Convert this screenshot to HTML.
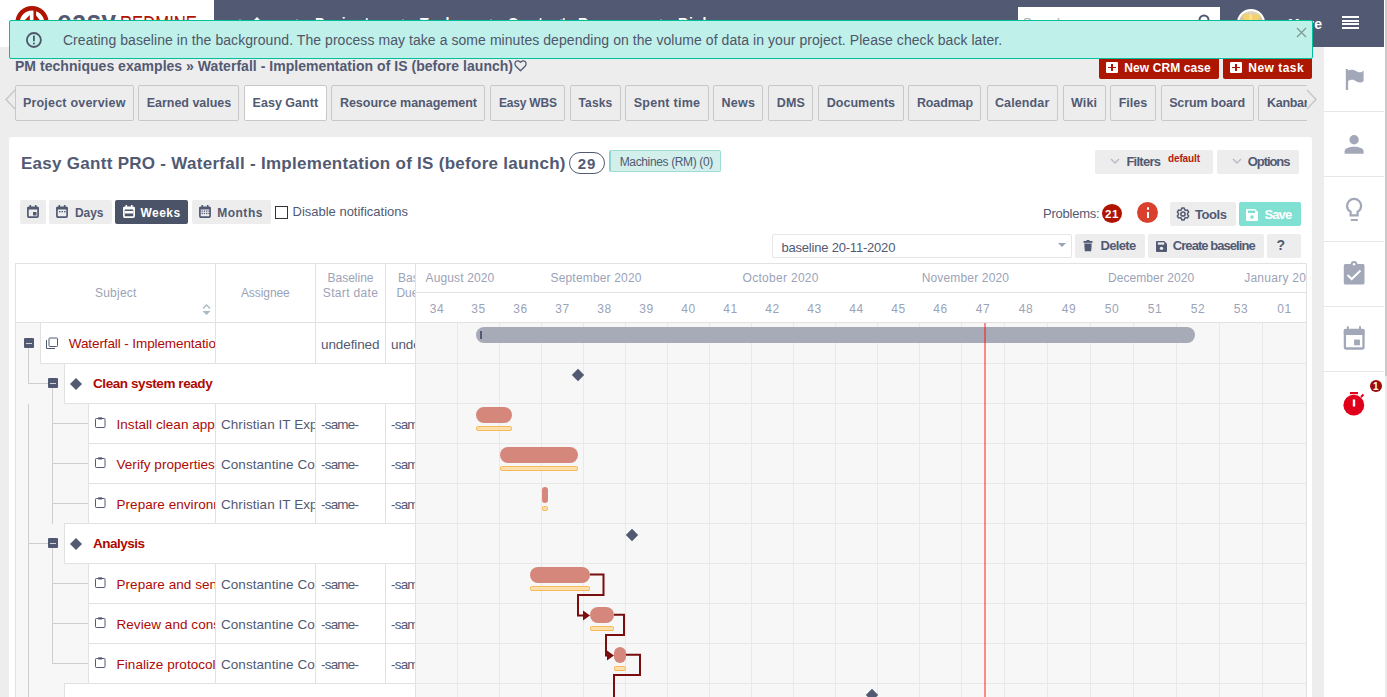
<!DOCTYPE html>
<html><head><meta charset="utf-8"><style>
html,body{margin:0;padding:0}
body{width:1387px;height:697px;overflow:hidden;position:relative;background:#ededed;font-family:"Liberation Sans",sans-serif}
</style></head><body>
<div style="position:absolute;left:0px;top:0px;width:214px;height:47px;background:#fff"></div>
<div style="position:absolute;left:214px;top:0px;width:1170px;height:47px;background:#525a73"></div>
<div style="position:absolute;left:1384px;top:0px;width:1px;height:697px;background:#fff"></div>
<div style="position:absolute;left:1385px;top:0px;width:2px;height:376px;background:#c9c9c9"></div>
<div style="position:absolute;left:1385px;top:376px;width:2px;height:321px;background:#ececec"></div>
<svg style="position:absolute;left:0;top:0" width="214" height="47" viewBox="0 0 214 47"><circle cx="32" cy="22.6" r="14.4" fill="none" stroke="#b01400" stroke-width="4.4"/><rect x="33.5" y="8" width="2.6" height="15" fill="#b01400"/><path d="M24 21 L29.8 15 L29.8 21 Z M36 15.5 L40.5 21 L36 21 Z" fill="#b01400"/><text x="57" y="30.6" font-family="Liberation Sans" font-weight="700" font-size="30" fill="#525a73" textLength="59" lengthAdjust="spacingAndGlyphs">easy</text><text x="120" y="30.6" font-family="Liberation Sans" font-weight="400" font-size="21.5" fill="#b01400" textLength="77" lengthAdjust="spacingAndGlyphs">REDMINE</text></svg>
<svg style="position:absolute;left:249px;top:16px" width="16" height="14" viewBox="0 0 16 14"><path d="M8 1 L15 8 L13 8 L13 14 L3 14 L3 8 L1 8 Z" fill="#fff"/></svg>
<div id="t0" style="position:absolute;white-space:nowrap;top:16.15px;font-size:14px;line-height:14px;font-weight:700;color:#fff;letter-spacing:1.107px;left:315.00px">Projects</div>
<div id="t1" style="position:absolute;white-space:nowrap;top:16.15px;font-size:14px;line-height:14px;font-weight:700;color:#fff;letter-spacing:0.832px;left:420.00px">Tasks</div>
<div id="t2" style="position:absolute;white-space:nowrap;top:16.15px;font-size:14px;line-height:14px;font-weight:700;color:#fff;letter-spacing:1.013px;left:508.00px">Contacts</div>
<div id="t3" style="position:absolute;white-space:nowrap;top:16.15px;font-size:14px;line-height:14px;font-weight:700;color:#fff;letter-spacing:0.676px;left:578.00px">Resources</div>
<div id="t4" style="position:absolute;white-space:nowrap;top:16.15px;font-size:14px;line-height:14px;font-weight:700;color:#fff;letter-spacing:0.910px;left:678.00px">Risks</div>
<div style="position:absolute;left:239px;top:19px;width:2px;height:2px;background:#9aa0b0;border-radius:1px"></div>
<div style="position:absolute;left:296px;top:19px;width:2px;height:2px;background:#9aa0b0;border-radius:1px"></div>
<div style="position:absolute;left:402px;top:19px;width:2px;height:2px;background:#9aa0b0;border-radius:1px"></div>
<div style="position:absolute;left:490px;top:19px;width:2px;height:2px;background:#9aa0b0;border-radius:1px"></div>
<div style="position:absolute;left:560px;top:19px;width:2px;height:2px;background:#9aa0b0;border-radius:1px"></div>
<div style="position:absolute;left:660px;top:19px;width:2px;height:2px;background:#9aa0b0;border-radius:1px"></div>
<div style="position:absolute;left:1018px;top:7px;width:202px;height:30px;background:#fff"></div>
<div id="t5" style="position:absolute;white-space:nowrap;top:16.00px;font-size:13px;line-height:13px;font-weight:400;color:#aaa;letter-spacing:0.000px;left:1023.00px">Search</div>
<svg style="position:absolute;left:1198px;top:14px" width="14" height="14" viewBox="0 0 14 14"><circle cx="6" cy="6" r="4.5" fill="none" stroke="#525a73" stroke-width="2"/><path d="M9 9 L13 13" stroke="#525a73" stroke-width="2"/></svg>
<svg style="position:absolute;left:1236px;top:8px" width="30" height="30" viewBox="0 0 30 30"><defs><linearGradient id="av" x1="0" y1="0" x2="0" y2="1"><stop offset="0" stop-color="#e6dcc6"/><stop offset="0.5" stop-color="#cbb88f"/><stop offset="1" stop-color="#bfa678"/></linearGradient></defs><circle cx="15" cy="15" r="13" fill="url(#av)" stroke="#fff" stroke-width="2"/><path d="M6 6.5 L24.5 6.5 L21.5 13 L9 13 Z" fill="#f2d36e"/><path d="M13.5 6.5 L16 6.5 L16 13 L13.5 13 Z" fill="#fbe39a"/></svg>
<div id="t6" style="position:absolute;white-space:nowrap;top:17.15px;font-size:14px;line-height:14px;font-weight:700;color:#fff;letter-spacing:0.182px;left:1288.00px">More</div>
<div style="position:absolute;left:1342px;top:16px;width:17px;height:2px;background:#fff"></div>
<div style="position:absolute;left:1342px;top:19.5px;width:17px;height:2px;background:#fff"></div>
<div style="position:absolute;left:1342px;top:23px;width:17px;height:2px;background:#fff"></div>
<div style="position:absolute;left:1342px;top:26.5px;width:17px;height:2px;background:#fff"></div>
<div style="position:absolute;left:1324px;top:47px;width:60px;height:650px;background:#fff"></div>
<div style="position:absolute;left:1324px;top:111px;width:60px;height:1px;background:#e6e6e6"></div>
<div style="position:absolute;left:1324px;top:176px;width:60px;height:1px;background:#e6e6e6"></div>
<div style="position:absolute;left:1324px;top:241px;width:60px;height:1px;background:#e6e6e6"></div>
<div style="position:absolute;left:1324px;top:306px;width:60px;height:1px;background:#e6e6e6"></div>
<div style="position:absolute;left:1324px;top:371px;width:60px;height:1px;background:#e6e6e6"></div>
<svg style="position:absolute;left:1340px;top:64px" width="28" height="30" viewBox="0 0 28 30"><rect x="5.8" y="5" width="2.3" height="21" fill="#a2a8b8"/><path d="M8 6.5 C11 5 14 5.5 17 7.5 C19.5 9 21.5 8.5 23.6 6.5 L23.6 17 C21.5 19 19 19 16.5 17.5 C13.5 15.5 11 15.3 8 17 Z" fill="#a2a8b8"/></svg>
<svg style="position:absolute;left:1340px;top:130px" width="28" height="28" viewBox="0 0 28 28"><circle cx="14.1" cy="9.7" r="4.7" fill="#a2a8b8"/><path d="M4.6 23.7 L4.6 21.5 C4.6 18.3 9 16.8 14.1 16.8 C19.2 16.8 23.6 18.3 23.6 21.5 L23.6 23.7 Z" fill="#a2a8b8"/></svg>
<svg style="position:absolute;left:1340px;top:192px" width="28" height="32" viewBox="0 0 28 32"><path d="M10.6 23.3 L10.6 19.6 C8.2 18.3 7.1 16.3 7.1 13.9 C7.1 10 10.2 6.9 14.1 6.9 C18 6.9 21.1 10 21.1 13.9 C21.1 16.3 20 18.3 17.6 19.6 L17.6 23.3 Z" fill="none" stroke="#a2a8b8" stroke-width="2.2"/><rect x="10.8" y="27" width="7" height="2" fill="#a2a8b8"/></svg>
<svg style="position:absolute;left:1340px;top:258px" width="28" height="30" viewBox="0 0 28 30"><rect x="3.8" y="5.9" width="20.7" height="20.7" rx="1.5" fill="#a2a8b8"/><circle cx="14" cy="6.2" r="3.3" fill="#a2a8b8"/><circle cx="14" cy="6.2" r="1.2" fill="#fff"/><path d="M7.5 17 L11.7 21 L20.5 12.5" fill="none" stroke="#fff" stroke-width="2"/></svg>
<svg style="position:absolute;left:1340px;top:323px" width="28" height="30" viewBox="0 0 28 30"><rect x="4.9" y="6.9" width="18.6" height="18.6" rx="1" fill="none" stroke="#a2a8b8" stroke-width="2.3"/><rect x="3.8" y="5.9" width="20.7" height="6.1" rx="1" fill="#a2a8b8"/><rect x="6.8" y="3.3" width="2" height="3" fill="#a2a8b8"/><rect x="19" y="3.3" width="2" height="3" fill="#a2a8b8"/><rect x="14.1" y="16.6" width="5.8" height="5.7" fill="#a2a8b8"/></svg>
<svg style="position:absolute;left:1340px;top:388px" width="28" height="30" viewBox="0 0 28 30"><circle cx="13.8" cy="17.2" r="10.4" fill="#e0001b"/><rect x="10" y="4" width="8" height="2.2" fill="#e0001b"/><path d="M21 9 L23.5 6.5" stroke="#e0001b" stroke-width="2"/><rect x="12.8" y="11.5" width="2.4" height="7" fill="#fff"/></svg>
<div style="position:absolute;left:1370px;top:380px;width:12px;height:12px;border-radius:50%;background:#9e0b0b"></div>
<div id="t7" style="position:absolute;white-space:nowrap;top:381.54px;font-size:10px;line-height:10px;font-weight:700;color:#fff;letter-spacing:0.000px;left:1373.00px">1</div>
<div id="t8" style="position:absolute;white-space:nowrap;top:58.75px;font-size:14px;line-height:14px;font-weight:700;color:#525a73;letter-spacing:0.031px;left:15.00px">PM techniques examples » Waterfall - Implementation of IS (before launch)</div>
<svg style="position:absolute;left:514px;top:60px" width="13" height="12" viewBox="0 0 13 12"><path d="M6.5 10.8 L1.9 6.2 C0.6 4.9 0.6 2.8 1.9 1.6 C3.1 0.5 5 0.6 6.5 2.4 C8 0.6 9.9 0.5 11.1 1.6 C12.4 2.8 12.4 4.9 11.1 6.2 Z" fill="none" stroke="#525a73" stroke-width="1.3" stroke-linejoin="round"/></svg>
<div style="position:absolute;left:1099px;top:54px;width:120px;height:25px;background:#ad1600;border-radius:2px"></div>
<div style="position:absolute;left:1223px;top:54px;width:89px;height:25px;background:#ad1600;border-radius:2px"></div>
<div style="position:absolute;left:1106px;top:62px;width:11.5px;height:11px;background:#fff;border-radius:1px"></div>
<div style="position:absolute;left:1111px;top:64px;width:1.6px;height:7px;background:#ad1600"></div>
<div style="position:absolute;left:1108px;top:66.8px;width:7.6px;height:1.6px;background:#ad1600"></div>
<div style="position:absolute;left:1230px;top:62px;width:11.5px;height:11px;background:#fff;border-radius:1px"></div>
<div style="position:absolute;left:1235px;top:64px;width:1.6px;height:7px;background:#ad1600"></div>
<div style="position:absolute;left:1232px;top:66.8px;width:7.6px;height:1.6px;background:#ad1600"></div>
<div id="t9" style="position:absolute;white-space:nowrap;top:61.54px;font-size:12px;line-height:12px;font-weight:700;color:#fff;letter-spacing:0.084px;left:1124.30px">New CRM case</div>
<div id="t10" style="position:absolute;white-space:nowrap;top:61.54px;font-size:12px;line-height:12px;font-weight:700;color:#fff;letter-spacing:0.467px;left:1248.30px">New task</div>
<div style="position:absolute;left:15px;top:80px;width:1292px;height:45px;overflow:hidden">
<div style="position:absolute;left:0px;top:5px;width:116.5px;height:34px;border:1px solid #c8c8c8;border-radius:2px;background:#ededed"></div>
<div style="position:absolute;left:123.4px;top:5px;width:99.1px;height:34px;border:1px solid #c8c8c8;border-radius:2px;background:#ededed"></div>
<div style="position:absolute;left:229.1px;top:5px;width:80.50000000000003px;height:34px;border:1px solid #c8c8c8;border-radius:2px;background:#fff"></div>
<div style="position:absolute;left:316.4px;top:5px;width:152.10000000000002px;height:34px;border:1px solid #c8c8c8;border-radius:2px;background:#ededed"></div>
<div style="position:absolute;left:475.3px;top:5px;width:72.99999999999994px;height:34px;border:1px solid #c8c8c8;border-radius:2px;background:#ededed"></div>
<div style="position:absolute;left:555.1px;top:5px;width:48.69999999999993px;height:34px;border:1px solid #c8c8c8;border-radius:2px;background:#ededed"></div>
<div style="position:absolute;left:610.4px;top:5px;width:81.20000000000005px;height:34px;border:1px solid #c8c8c8;border-radius:2px;background:#ededed"></div>
<div style="position:absolute;left:698.1px;top:5px;width:48.39999999999998px;height:34px;border:1px solid #c8c8c8;border-radius:2px;background:#ededed"></div>
<div style="position:absolute;left:753.3px;top:5px;width:43.10000000000002px;height:34px;border:1px solid #c8c8c8;border-radius:2px;background:#ededed"></div>
<div style="position:absolute;left:803.2px;top:5px;width:83.39999999999998px;height:34px;border:1px solid #c8c8c8;border-radius:2px;background:#ededed"></div>
<div style="position:absolute;left:893.4px;top:5px;width:71.10000000000002px;height:34px;border:1px solid #c8c8c8;border-radius:2px;background:#ededed"></div>
<div style="position:absolute;left:971.5px;top:5px;width:69.40000000000009px;height:34px;border:1px solid #c8c8c8;border-radius:2px;background:#ededed"></div>
<div style="position:absolute;left:1047.5px;top:5px;width:41.200000000000045px;height:34px;border:1px solid #c8c8c8;border-radius:2px;background:#ededed"></div>
<div style="position:absolute;left:1095.2px;top:5px;width:43.399999999999864px;height:34px;border:1px solid #c8c8c8;border-radius:2px;background:#ededed"></div>
<div style="position:absolute;left:1145.6px;top:5px;width:91.0px;height:34px;border:1px solid #c8c8c8;border-radius:2px;background:#ededed"></div>
<div style="position:absolute;left:1243.3px;top:5px;width:79.70000000000005px;height:34px;border:1px solid #c8c8c8;border-radius:2px;background:#ededed"></div>
</div>
<div id="t11" style="position:absolute;white-space:nowrap;top:96.72px;font-size:12.5px;line-height:12.5px;font-weight:700;color:#525a73;letter-spacing:0.209px;left:74.25px;transform:translateX(-50%)">Project overview</div>
<div id="t12" style="position:absolute;white-space:nowrap;top:96.72px;font-size:12.5px;line-height:12.5px;font-weight:700;color:#525a73;letter-spacing:-0.039px;left:188.95px;transform:translateX(-50%)">Earned values</div>
<div id="t13" style="position:absolute;white-space:nowrap;top:96.72px;font-size:12.5px;line-height:12.5px;font-weight:700;color:#525a73;letter-spacing:0.021px;left:285.35px;transform:translateX(-50%)">Easy Gantt</div>
<div id="t14" style="position:absolute;white-space:nowrap;top:96.72px;font-size:12.5px;line-height:12.5px;font-weight:700;color:#525a73;letter-spacing:-0.031px;left:408.45px;transform:translateX(-50%)">Resource management</div>
<div id="t15" style="position:absolute;white-space:nowrap;top:97.14px;font-size:12px;line-height:12px;font-weight:700;color:#525a73;letter-spacing:-0.194px;left:527.80px;transform:translateX(-50%)">Easy WBS</div>
<div id="t16" style="position:absolute;white-space:nowrap;top:97.14px;font-size:12px;line-height:12px;font-weight:700;color:#525a73;letter-spacing:0.140px;left:595.45px;transform:translateX(-50%)">Tasks</div>
<div id="t17" style="position:absolute;white-space:nowrap;top:96.72px;font-size:12.5px;line-height:12.5px;font-weight:700;color:#525a73;letter-spacing:0.255px;left:667.00px;transform:translateX(-50%)">Spent time</div>
<div id="t18" style="position:absolute;white-space:nowrap;top:96.72px;font-size:12.5px;line-height:12.5px;font-weight:700;color:#525a73;letter-spacing:0.248px;left:738.30px;transform:translateX(-50%)">News</div>
<div id="t19" style="position:absolute;white-space:nowrap;top:96.72px;font-size:12.5px;line-height:12.5px;font-weight:700;color:#525a73;letter-spacing:0.159px;left:790.85px;transform:translateX(-50%)">DMS</div>
<div id="t20" style="position:absolute;white-space:nowrap;top:96.72px;font-size:12.5px;line-height:12.5px;font-weight:700;color:#525a73;letter-spacing:0.040px;left:860.90px;transform:translateX(-50%)">Documents</div>
<div id="t21" style="position:absolute;white-space:nowrap;top:96.72px;font-size:12.5px;line-height:12.5px;font-weight:700;color:#525a73;letter-spacing:-0.142px;left:944.95px;transform:translateX(-50%)">Roadmap</div>
<div id="t22" style="position:absolute;white-space:nowrap;top:96.72px;font-size:12.5px;line-height:12.5px;font-weight:700;color:#525a73;letter-spacing:0.129px;left:1022.20px;transform:translateX(-50%)">Calendar</div>
<div id="t23" style="position:absolute;white-space:nowrap;top:96.72px;font-size:12.5px;line-height:12.5px;font-weight:700;color:#525a73;letter-spacing:0.202px;left:1084.10px;transform:translateX(-50%)">Wiki</div>
<div id="t24" style="position:absolute;white-space:nowrap;top:96.72px;font-size:12.5px;line-height:12.5px;font-weight:700;color:#525a73;letter-spacing:-0.025px;left:1132.90px;transform:translateX(-50%)">Files</div>
<div id="t25" style="position:absolute;white-space:nowrap;top:96.72px;font-size:12.5px;line-height:12.5px;font-weight:700;color:#525a73;letter-spacing:-0.111px;left:1207.10px;transform:translateX(-50%)">Scrum board</div>
<div style="position:absolute;left:1258px;top:0;width:49px;height:697px;overflow:hidden"><div id="t26" style="position:absolute;white-space:nowrap;top:96.72px;font-size:12.5px;line-height:12.5px;font-weight:700;color:#525a73;letter-spacing:-0.300px;left:9.00px">Kanban</div></div>
<svg style="position:absolute;left:3px;top:88px" width="14" height="24" viewBox="0 0 14 24"><path d="M12 2 L3 11.5 L12 21" fill="none" stroke="#c8c8c8" stroke-width="1.5"/></svg>
<svg style="position:absolute;left:1305px;top:88px" width="14" height="24" viewBox="0 0 14 24"><path d="M2 2 L11 11.5 L2 21" fill="none" stroke="#c8c8c8" stroke-width="1.5"/></svg>
<div style="position:absolute;left:9px;top:137px;width:1303px;height:600px;background:#fff;border-radius:3px"></div>
<div id="t27" style="position:absolute;white-space:nowrap;top:154.61px;font-size:17px;line-height:17px;font-weight:700;color:#525a73;letter-spacing:0.282px;left:21.00px">Easy Gantt PRO - Waterfall - Implementation of IS (before launch)</div>
<div style="position:absolute;left:569px;top:152px;width:34px;height:20px;border:1px solid #525a73;border-radius:11px"></div>
<div id="t28" style="position:absolute;white-space:nowrap;top:156.30px;font-size:15px;line-height:15px;font-weight:700;color:#525a73;letter-spacing:0.812px;left:587.00px;transform:translateX(-50%)">29</div>
<div style="position:absolute;left:609px;top:150px;width:109px;height:20px;border:1px solid #9fdcd3;border-left:2px solid #8fd5cb;background:#d3efec;border-radius:2px"></div>
<div id="t29" style="position:absolute;white-space:nowrap;top:155.84px;font-size:12px;line-height:12px;font-weight:400;color:#525a73;letter-spacing:-0.360px;left:619.70px">Machines (RM) (0)</div>
<div style="position:absolute;left:1095px;top:150px;width:118px;height:24px;background:#ededed;border-radius:2px"></div>
<div style="position:absolute;left:1217px;top:150px;width:82px;height:24px;background:#ededed;border-radius:2px"></div>
<svg style="position:absolute;left:1110px;top:158px" width="10" height="7" viewBox="0 0 10 7"><path d="M1 1 L5 5 L9 1" fill="none" stroke="#b9bdc8" stroke-width="1.5"/></svg>
<svg style="position:absolute;left:1232px;top:158px" width="10" height="7" viewBox="0 0 10 7"><path d="M1 1 L5 5 L9 1" fill="none" stroke="#b9bdc8" stroke-width="1.5"/></svg>
<div id="t30" style="position:absolute;white-space:nowrap;top:155.00px;font-size:13px;line-height:13px;font-weight:700;color:#525a73;letter-spacing:-0.736px;left:1126.40px">Filters</div>
<div id="t31" style="position:absolute;white-space:nowrap;top:153.53px;font-size:10px;line-height:10px;font-weight:700;color:#b31b10;letter-spacing:-0.130px;left:1168.00px">default</div>
<div id="t32" style="position:absolute;white-space:nowrap;top:155.00px;font-size:13px;line-height:13px;font-weight:700;color:#525a73;letter-spacing:-1.085px;left:1247.80px">Options</div>
<div style="position:absolute;left:20px;top:200px;width:26px;height:24px;background:#ededed;border-radius:2px"></div>
<div style="position:absolute;left:49px;top:200px;width:63px;height:24px;background:#ededed;border-radius:2px"></div>
<div style="position:absolute;left:115px;top:200px;width:73px;height:24px;background:#4b5368;border-radius:2px"></div>
<div style="position:absolute;left:192px;top:200px;width:79px;height:24px;background:#ededed;border-radius:2px"></div>
<svg style="position:absolute;left:27px;top:205px" width="12" height="13" viewBox="0 0 12 13"><rect x="0.9" y="2.4" width="10.2" height="9.7" rx="1" fill="none" stroke="#525a73" stroke-width="1.7"/><rect x="0.5" y="2" width="11" height="2.5" fill="#525a73"/><rect x="2.5" y="0" width="1.6" height="3" fill="#525a73"/><rect x="7.9" y="0" width="1.6" height="3" fill="#525a73"/><rect x="6" y="7" width="3.5" height="3.5" fill="#525a73"/></svg>
<svg style="position:absolute;left:56px;top:205px" width="12" height="13" viewBox="0 0 12 13"><rect x="0.9" y="2.4" width="10.2" height="9.7" rx="1" fill="none" stroke="#525a73" stroke-width="1.7"/><rect x="0.5" y="2" width="11" height="2.5" fill="#525a73"/><rect x="2.5" y="0" width="1.6" height="3" fill="#525a73"/><rect x="7.9" y="0" width="1.6" height="3" fill="#525a73"/><rect x="3" y="6" width="1.5" height="1.3" fill="#525a73"/><rect x="5.5" y="6" width="1.5" height="1.3" fill="#525a73"/><rect x="8" y="6" width="1.5" height="1.3" fill="#525a73"/></svg>
<svg style="position:absolute;left:122.5px;top:205px" width="12" height="13" viewBox="0 0 12 13"><rect x="0.9" y="2.4" width="10.2" height="9.7" rx="1" fill="none" stroke="#fff" stroke-width="1.7"/><rect x="0.5" y="2" width="11" height="2.5" fill="#fff"/><rect x="2.5" y="0" width="1.6" height="3" fill="#fff"/><rect x="7.9" y="0" width="1.6" height="3" fill="#fff"/><rect x="2" y="6" width="8" height="2.5" fill="#fff"/></svg>
<svg style="position:absolute;left:199px;top:205px" width="12" height="13" viewBox="0 0 12 13"><rect x="0.9" y="2.4" width="10.2" height="9.7" rx="1" fill="none" stroke="#525a73" stroke-width="1.7"/><rect x="0.5" y="2" width="11" height="2.5" fill="#525a73"/><rect x="2.5" y="0" width="1.6" height="3" fill="#525a73"/><rect x="7.9" y="0" width="1.6" height="3" fill="#525a73"/><rect x="2.5" y="5.5" width="1.3" height="1.3" fill="#525a73"/><rect x="2.5" y="7.8" width="1.3" height="1.3" fill="#525a73"/><rect x="4.8" y="5.5" width="1.3" height="1.3" fill="#525a73"/><rect x="4.8" y="7.8" width="1.3" height="1.3" fill="#525a73"/><rect x="7.1" y="5.5" width="1.3" height="1.3" fill="#525a73"/><rect x="7.1" y="7.8" width="1.3" height="1.3" fill="#525a73"/><rect x="9.399999999999999" y="5.5" width="1.3" height="1.3" fill="#525a73"/><rect x="9.399999999999999" y="7.8" width="1.3" height="1.3" fill="#525a73"/></svg>
<div id="t33" style="position:absolute;white-space:nowrap;top:206.84px;font-size:12px;line-height:12px;font-weight:700;color:#525a73;letter-spacing:-0.096px;left:75.00px">Days</div>
<div id="t34" style="position:absolute;white-space:nowrap;top:206.84px;font-size:12px;line-height:12px;font-weight:700;color:#fff;letter-spacing:0.497px;left:140.40px">Weeks</div>
<div id="t35" style="position:absolute;white-space:nowrap;top:206.84px;font-size:12px;line-height:12px;font-weight:700;color:#525a73;letter-spacing:0.509px;left:217.20px">Months</div>
<div style="position:absolute;left:275px;top:206px;width:11px;height:11px;border:1px solid #333;background:#fff"></div>
<div id="t36" style="position:absolute;white-space:nowrap;top:205.00px;font-size:13px;line-height:13px;font-weight:400;color:#525a73;letter-spacing:-0.006px;left:292.50px">Disable notifications</div>
<div id="t37" style="position:absolute;white-space:nowrap;top:207.20px;font-size:13px;line-height:13px;font-weight:400;color:#525a73;letter-spacing:-0.254px;left:1043.10px">Problems:</div>
<div style="position:absolute;left:1102px;top:204px;width:20px;height:19px;border-radius:50%;background:#b01400"></div>
<div id="t38" style="position:absolute;white-space:nowrap;top:208.57px;font-size:11.5px;line-height:11.5px;font-weight:700;color:#fff;letter-spacing:0.500px;left:1112.00px;transform:translateX(-50%)">21</div>
<div style="position:absolute;left:1137px;top:202px;width:21px;height:21px;border-radius:50%;background:#d9412e"></div>
<div style="position:absolute;left:1146.5px;top:207.2px;width:2.5px;height:2.5px;background:#fff;border-radius:1px"></div>
<div style="position:absolute;left:1146.5px;top:211.5px;width:2.5px;height:6.5px;background:#fff"></div>
<div style="position:absolute;left:1170px;top:202px;width:66px;height:24px;background:#ededed;border-radius:2px"></div>
<div style="position:absolute;left:1239px;top:202px;width:62px;height:24px;background:#80e1d3;border-radius:2px"></div>
<svg style="position:absolute;left:1175.7px;top:207.2px" width="14" height="14" viewBox="0 0 14 14"><g fill="none" stroke="#525a73" stroke-width="1.5" stroke-linejoin="round"><circle cx="7" cy="7" r="2.1"/><path d="M8.72 2.73 L8.14 1.11 L5.86 1.11 L5.28 2.73 L4.17 3.38 L2.47 3.06 L1.33 5.05 L2.44 6.36 L2.44 7.64 L1.33 8.95 L2.47 10.94 L4.17 10.62 L5.28 11.27 L5.86 12.89 L8.14 12.89 L8.72 11.27 L9.83 10.62 L11.53 10.94 L12.67 8.95 L11.56 7.64 L11.56 6.36 L12.67 5.05 L11.53 3.06 L9.83 3.38 Z"/></g></svg>
<div id="t39" style="position:absolute;white-space:nowrap;top:207.90px;font-size:13px;line-height:13px;font-weight:700;color:#525a73;letter-spacing:-0.451px;left:1195.10px">Tools</div>
<svg style="position:absolute;left:1246px;top:208.5px" width="12" height="12" viewBox="0 0 12 12"><path d="M0 1 Q0 0 1 0 L9 0 L12 3 L12 11 Q12 12 11 12 L1 12 Q0 12 0 11 Z" fill="#fff"/><rect x="2" y="1.5" width="7" height="2.5" fill="#80e1d3"/><circle cx="6" cy="8" r="1.8" fill="#80e1d3"/></svg>
<div id="t40" style="position:absolute;white-space:nowrap;top:207.90px;font-size:13px;line-height:13px;font-weight:700;color:#fff;letter-spacing:-0.858px;left:1264.40px">Save</div>
<div style="position:absolute;left:772px;top:234px;width:298px;height:22px;border:1px solid #e6e6e6;border-radius:2px;background:#fff"></div>
<div id="t41" style="position:absolute;white-space:nowrap;top:240.90px;font-size:13px;line-height:13px;font-weight:400;color:#525a73;letter-spacing:-0.199px;left:781.40px">baseline 20-11-2020</div>
<svg style="position:absolute;left:1058px;top:243px" width="8" height="5" viewBox="0 0 8 5"><path d="M0 0 L8 0 L4 4 Z" fill="#9ba3b8"/></svg>
<div style="position:absolute;left:1075px;top:234px;width:70px;height:23.5px;background:#ededed;border-radius:2px"></div>
<div style="position:absolute;left:1148px;top:234px;width:116px;height:23.5px;background:#ededed;border-radius:2px"></div>
<div style="position:absolute;left:1267px;top:234px;width:34px;height:23.5px;background:#ededed;border-radius:2px"></div>
<svg style="position:absolute;left:1083px;top:240px" width="10" height="12" viewBox="0 0 10 12"><rect x="0.5" y="1" width="9" height="1.8" fill="#525a73"/><rect x="3.5" y="0" width="3" height="1.5" fill="#525a73"/><path d="M1.3 3.5 L8.7 3.5 L8.2 11.2 L1.8 11.2 Z" fill="#525a73"/></svg>
<div id="t42" style="position:absolute;white-space:nowrap;top:239.00px;font-size:13px;line-height:13px;font-weight:700;color:#525a73;letter-spacing:-0.666px;left:1100.50px">Delete</div>
<svg style="position:absolute;left:1155.5px;top:240.5px" width="11" height="11" viewBox="0 0 12 12"><path d="M0 1 Q0 0 1 0 L9 0 L12 3 L12 11 Q12 12 11 12 L1 12 Q0 12 0 11 Z" fill="#525a73"/><rect x="2" y="1.5" width="7" height="2.5" fill="#ededed"/><circle cx="6" cy="8" r="1.8" fill="#ededed"/></svg>
<div id="t43" style="position:absolute;white-space:nowrap;top:239.00px;font-size:13px;line-height:13px;font-weight:700;color:#525a73;letter-spacing:-0.944px;left:1172.80px">Create baseline</div>
<div id="t44" style="position:absolute;white-space:nowrap;top:238.15px;font-size:14px;line-height:14px;font-weight:700;color:#525a73;letter-spacing:-0.862px;left:1276.40px">?</div>
<div style="position:absolute;left:15px;top:263px;width:1292px;height:1px;background:#e2e2e2"></div>
<div style="position:absolute;left:15px;top:263px;width:1px;height:434px;background:#e2e2e2"></div>
<div style="position:absolute;left:1306px;top:263px;width:1px;height:434px;background:#e2e2e2"></div>
<div style="position:absolute;left:15px;top:322px;width:1292px;height:1px;background:#e2e2e2"></div>
<div style="position:absolute;left:215px;top:263px;width:1px;height:59px;background:#e2e2e2"></div>
<div style="position:absolute;left:315px;top:263px;width:1px;height:59px;background:#e2e2e2"></div>
<div style="position:absolute;left:385px;top:263px;width:1px;height:59px;background:#e2e2e2"></div>
<div style="position:absolute;left:415px;top:263px;width:1px;height:434px;background:#e2e2e2"></div>
<div style="position:absolute;left:416px;top:292px;width:890px;height:1px;background:#e2e2e2"></div>
<div id="t45" style="position:absolute;white-space:nowrap;top:286.84px;font-size:12px;line-height:12px;font-weight:400;color:#9ba3b8;letter-spacing:0.228px;left:115.80px;transform:translateX(-50%)">Subject</div>
<svg style="position:absolute;left:202px;top:303px" width="9" height="14" viewBox="0 0 9 14"><path d="M1 5.5 L4.5 2 L8 5.5" fill="none" stroke="#a9b9c3" stroke-width="1.3"/><path d="M0.5 8 L8.5 8 L4.5 12 Z" fill="#a9b9c3"/></svg>
<div id="t46" style="position:absolute;white-space:nowrap;top:286.84px;font-size:12px;line-height:12px;font-weight:400;color:#9ba3b8;letter-spacing:-0.068px;left:265.30px;transform:translateX(-50%)">Assignee</div>
<div id="t47" style="position:absolute;white-space:nowrap;top:271.84px;font-size:12px;line-height:12px;font-weight:400;color:#9ba3b8;letter-spacing:-0.004px;left:350.50px;transform:translateX(-50%)">Baseline</div>
<div id="t48" style="position:absolute;white-space:nowrap;top:286.84px;font-size:12px;line-height:12px;font-weight:400;color:#9ba3b8;letter-spacing:0.330px;left:350.50px;transform:translateX(-50%)">Start date</div>
<div style="position:absolute;left:386px;top:0;width:29px;height:697px;overflow:hidden"><div id="t49" style="position:absolute;white-space:nowrap;top:271.84px;font-size:12px;line-height:12px;font-weight:400;color:#9ba3b8;letter-spacing:0.000px;left:12.00px">Baseline</div></div>
<div style="position:absolute;left:386px;top:0;width:29px;height:697px;overflow:hidden"><div id="t50" style="position:absolute;white-space:nowrap;top:286.84px;font-size:12px;line-height:12px;font-weight:400;color:#9ba3b8;letter-spacing:0.000px;left:10.40px">Due date</div></div>
<div style="position:absolute;left:416px;top:323px;width:890px;height:374px;background:#f7f7f7"></div>
<div style="position:absolute;left:457px;top:323px;width:1px;height:374px;background:#e9e9e9"></div>
<div style="position:absolute;left:499px;top:323px;width:1px;height:374px;background:#e9e9e9"></div>
<div style="position:absolute;left:541px;top:323px;width:1px;height:374px;background:#e9e9e9"></div>
<div style="position:absolute;left:583px;top:323px;width:1px;height:374px;background:#e9e9e9"></div>
<div style="position:absolute;left:625px;top:323px;width:1px;height:374px;background:#e9e9e9"></div>
<div style="position:absolute;left:667px;top:323px;width:1px;height:374px;background:#e9e9e9"></div>
<div style="position:absolute;left:709px;top:323px;width:1px;height:374px;background:#e9e9e9"></div>
<div style="position:absolute;left:751px;top:323px;width:1px;height:374px;background:#e9e9e9"></div>
<div style="position:absolute;left:793px;top:323px;width:1px;height:374px;background:#e9e9e9"></div>
<div style="position:absolute;left:835px;top:323px;width:1px;height:374px;background:#e9e9e9"></div>
<div style="position:absolute;left:877px;top:323px;width:1px;height:374px;background:#e9e9e9"></div>
<div style="position:absolute;left:919px;top:323px;width:1px;height:374px;background:#e9e9e9"></div>
<div style="position:absolute;left:961px;top:323px;width:1px;height:374px;background:#e9e9e9"></div>
<div style="position:absolute;left:1004px;top:323px;width:1px;height:374px;background:#e9e9e9"></div>
<div style="position:absolute;left:1047px;top:323px;width:1px;height:374px;background:#e9e9e9"></div>
<div style="position:absolute;left:1090px;top:323px;width:1px;height:374px;background:#e9e9e9"></div>
<div style="position:absolute;left:1133px;top:323px;width:1px;height:374px;background:#e9e9e9"></div>
<div style="position:absolute;left:1176px;top:323px;width:1px;height:374px;background:#e9e9e9"></div>
<div style="position:absolute;left:1219px;top:323px;width:1px;height:374px;background:#e9e9e9"></div>
<div style="position:absolute;left:1262px;top:323px;width:1px;height:374px;background:#e9e9e9"></div>
<div id="t51" style="position:absolute;white-space:nowrap;top:302.54px;font-size:12px;line-height:12px;font-weight:400;color:#9ba3b8;letter-spacing:0.641px;left:437.00px;transform:translateX(-50%)">34</div>
<div id="t52" style="position:absolute;white-space:nowrap;top:302.54px;font-size:12px;line-height:12px;font-weight:400;color:#9ba3b8;letter-spacing:0.641px;left:478.50px;transform:translateX(-50%)">35</div>
<div id="t53" style="position:absolute;white-space:nowrap;top:302.54px;font-size:12px;line-height:12px;font-weight:400;color:#9ba3b8;letter-spacing:0.641px;left:520.50px;transform:translateX(-50%)">36</div>
<div id="t54" style="position:absolute;white-space:nowrap;top:302.54px;font-size:12px;line-height:12px;font-weight:400;color:#9ba3b8;letter-spacing:0.641px;left:562.50px;transform:translateX(-50%)">37</div>
<div id="t55" style="position:absolute;white-space:nowrap;top:302.54px;font-size:12px;line-height:12px;font-weight:400;color:#9ba3b8;letter-spacing:0.641px;left:604.50px;transform:translateX(-50%)">38</div>
<div id="t56" style="position:absolute;white-space:nowrap;top:302.54px;font-size:12px;line-height:12px;font-weight:400;color:#9ba3b8;letter-spacing:0.641px;left:646.50px;transform:translateX(-50%)">39</div>
<div id="t57" style="position:absolute;white-space:nowrap;top:302.54px;font-size:12px;line-height:12px;font-weight:400;color:#9ba3b8;letter-spacing:0.641px;left:688.50px;transform:translateX(-50%)">40</div>
<div id="t58" style="position:absolute;white-space:nowrap;top:302.54px;font-size:12px;line-height:12px;font-weight:400;color:#9ba3b8;letter-spacing:0.641px;left:730.50px;transform:translateX(-50%)">41</div>
<div id="t59" style="position:absolute;white-space:nowrap;top:302.54px;font-size:12px;line-height:12px;font-weight:400;color:#9ba3b8;letter-spacing:0.641px;left:772.50px;transform:translateX(-50%)">42</div>
<div id="t60" style="position:absolute;white-space:nowrap;top:302.54px;font-size:12px;line-height:12px;font-weight:400;color:#9ba3b8;letter-spacing:0.641px;left:814.50px;transform:translateX(-50%)">43</div>
<div id="t61" style="position:absolute;white-space:nowrap;top:302.54px;font-size:12px;line-height:12px;font-weight:400;color:#9ba3b8;letter-spacing:0.641px;left:856.50px;transform:translateX(-50%)">44</div>
<div id="t62" style="position:absolute;white-space:nowrap;top:302.54px;font-size:12px;line-height:12px;font-weight:400;color:#9ba3b8;letter-spacing:0.641px;left:898.50px;transform:translateX(-50%)">45</div>
<div id="t63" style="position:absolute;white-space:nowrap;top:302.54px;font-size:12px;line-height:12px;font-weight:400;color:#9ba3b8;letter-spacing:0.641px;left:940.50px;transform:translateX(-50%)">46</div>
<div id="t64" style="position:absolute;white-space:nowrap;top:302.54px;font-size:12px;line-height:12px;font-weight:400;color:#9ba3b8;letter-spacing:0.641px;left:983.00px;transform:translateX(-50%)">47</div>
<div id="t65" style="position:absolute;white-space:nowrap;top:302.54px;font-size:12px;line-height:12px;font-weight:400;color:#9ba3b8;letter-spacing:0.641px;left:1026.00px;transform:translateX(-50%)">48</div>
<div id="t66" style="position:absolute;white-space:nowrap;top:302.54px;font-size:12px;line-height:12px;font-weight:400;color:#9ba3b8;letter-spacing:0.641px;left:1069.00px;transform:translateX(-50%)">49</div>
<div id="t67" style="position:absolute;white-space:nowrap;top:302.54px;font-size:12px;line-height:12px;font-weight:400;color:#9ba3b8;letter-spacing:0.641px;left:1112.00px;transform:translateX(-50%)">50</div>
<div id="t68" style="position:absolute;white-space:nowrap;top:302.54px;font-size:12px;line-height:12px;font-weight:400;color:#9ba3b8;letter-spacing:0.641px;left:1155.00px;transform:translateX(-50%)">51</div>
<div id="t69" style="position:absolute;white-space:nowrap;top:302.54px;font-size:12px;line-height:12px;font-weight:400;color:#9ba3b8;letter-spacing:0.641px;left:1198.00px;transform:translateX(-50%)">52</div>
<div id="t70" style="position:absolute;white-space:nowrap;top:302.54px;font-size:12px;line-height:12px;font-weight:400;color:#9ba3b8;letter-spacing:0.641px;left:1241.00px;transform:translateX(-50%)">53</div>
<div id="t71" style="position:absolute;white-space:nowrap;top:302.54px;font-size:12px;line-height:12px;font-weight:400;color:#9ba3b8;letter-spacing:0.641px;left:1284.50px;transform:translateX(-50%)">01</div>
<div id="t72" style="position:absolute;white-space:nowrap;top:271.64px;font-size:12px;line-height:12px;font-weight:400;color:#9ba3b8;letter-spacing:0.141px;left:425.50px">August 2020</div>
<div id="t73" style="position:absolute;white-space:nowrap;top:271.64px;font-size:12px;line-height:12px;font-weight:400;color:#9ba3b8;letter-spacing:0.174px;left:550.50px">September 2020</div>
<div id="t74" style="position:absolute;white-space:nowrap;top:271.64px;font-size:12px;line-height:12px;font-weight:400;color:#9ba3b8;letter-spacing:0.298px;left:742.50px">October 2020</div>
<div id="t75" style="position:absolute;white-space:nowrap;top:271.64px;font-size:12px;line-height:12px;font-weight:400;color:#9ba3b8;letter-spacing:0.159px;left:921.70px">November 2020</div>
<div id="t76" style="position:absolute;white-space:nowrap;top:271.64px;font-size:12px;line-height:12px;font-weight:400;color:#9ba3b8;letter-spacing:0.076px;left:1107.90px">December 2020</div>
<div style="position:absolute;left:1240px;top:0;width:66px;height:697px;overflow:hidden"><div id="t77" style="position:absolute;white-space:nowrap;top:271.64px;font-size:12px;line-height:12px;font-weight:400;color:#9ba3b8;letter-spacing:0.250px;left:4.20px">January 2021</div></div>
<div style="position:absolute;left:16px;top:323px;width:399px;height:374px;background:#f7f7f7"></div>
<div style="position:absolute;left:40px;top:323px;width:375px;height:40px;background:#fff"></div>
<div style="position:absolute;left:40px;top:363px;width:375px;height:1px;background:#e2e2e2"></div>
<div style="position:absolute;left:40px;top:323px;width:1px;height:40px;background:#e2e2e2"></div>
<div style="position:absolute;left:416px;top:363px;width:890px;height:1px;background:#e9e9e9"></div>
<div style="position:absolute;left:68px;top:0;width:147px;height:697px;overflow:hidden"><div id="t78" style="position:absolute;white-space:nowrap;top:337.47px;font-size:13.5px;line-height:13.5px;font-weight:400;color:#ad0a04;letter-spacing:-0.100px;left:0.80px">Waterfall - Implementation of IS</div></div>
<svg style="position:absolute;left:45px;top:337px" width="14" height="13" viewBox="0 0 14 13"><path d="M1.5 3 L1.5 11.5 L10 11.5" fill="none" stroke="#525a73" stroke-width="1"/><rect x="4" y="1" width="8.5" height="8.5" rx="0.8" fill="none" stroke="#525a73" stroke-width="1"/></svg>
<div style="position:absolute;left:215px;top:323px;width:1px;height:40px;background:#e2e2e2"></div>
<div style="position:absolute;left:315px;top:323px;width:1px;height:40px;background:#e2e2e2"></div>
<div style="position:absolute;left:385px;top:323px;width:1px;height:40px;background:#e2e2e2"></div>
<div style="position:absolute;left:320px;top:0;width:65px;height:697px;overflow:hidden"><div id="t79" style="position:absolute;white-space:nowrap;top:337.57px;font-size:13.5px;line-height:13.5px;font-weight:400;color:#525a73;letter-spacing:-0.100px;left:1.00px">undefined</div></div>
<div style="position:absolute;left:390px;top:0;width:25px;height:697px;overflow:hidden"><div id="t80" style="position:absolute;white-space:nowrap;top:337.57px;font-size:13.5px;line-height:13.5px;font-weight:400;color:#525a73;letter-spacing:-0.100px;left:1.00px">undefined</div></div>
<div style="position:absolute;left:64px;top:364px;width:351px;height:39px;background:#fff"></div>
<div style="position:absolute;left:64px;top:403px;width:351px;height:1px;background:#e2e2e2"></div>
<div style="position:absolute;left:64px;top:363px;width:351px;height:1px;background:#e2e2e2"></div>
<div style="position:absolute;left:64px;top:363px;width:1px;height:40px;background:#e2e2e2"></div>
<div style="position:absolute;left:416px;top:403px;width:890px;height:1px;background:#e9e9e9"></div>
<div id="t81" style="position:absolute;white-space:nowrap;top:377.17px;font-size:13.5px;line-height:13.5px;font-weight:700;color:#ad0a04;letter-spacing:-0.419px;left:93.00px">Clean system ready</div>
<svg style="position:absolute;left:69px;top:377px" width="14" height="14" viewBox="0 0 14 14"><path d="M7 1 L13 7 L7 13 L1 7 Z" fill="#525a73"/></svg>
<div style="position:absolute;left:88px;top:404px;width:327px;height:39px;background:#fff"></div>
<div style="position:absolute;left:88px;top:443px;width:327px;height:1px;background:#e2e2e2"></div>
<div style="position:absolute;left:88px;top:403px;width:327px;height:1px;background:#e2e2e2"></div>
<div style="position:absolute;left:88px;top:403px;width:1px;height:40px;background:#e2e2e2"></div>
<div style="position:absolute;left:416px;top:443px;width:890px;height:1px;background:#e9e9e9"></div>
<div style="position:absolute;left:116px;top:0;width:99px;height:697px;overflow:hidden"><div id="t82" style="position:absolute;white-space:nowrap;top:417.57px;font-size:13.5px;line-height:13.5px;font-weight:400;color:#ad0a04;letter-spacing:0.050px;left:0.50px">Install clean application</div></div>
<svg style="position:absolute;left:95px;top:417px" width="11" height="11" viewBox="0 0 11 11"><rect x="0.5" y="1.5" width="9.5" height="9" rx="0.8" fill="none" stroke="#525a73" stroke-width="1"/><rect x="3.2" y="0.3" width="4" height="2.2" fill="#525a73"/></svg>
<div style="position:absolute;left:215px;top:403px;width:1px;height:40px;background:#e2e2e2"></div>
<div style="position:absolute;left:315px;top:403px;width:1px;height:40px;background:#e2e2e2"></div>
<div style="position:absolute;left:385px;top:403px;width:1px;height:40px;background:#e2e2e2"></div>
<div style="position:absolute;left:220px;top:0;width:95px;height:697px;overflow:hidden"><div id="t83" style="position:absolute;white-space:nowrap;top:417.57px;font-size:13.5px;line-height:13.5px;font-weight:400;color:#525a73;letter-spacing:0.050px;left:1.00px">Christian IT Expert</div></div>
<div style="position:absolute;left:320px;top:0;width:65px;height:697px;overflow:hidden"><div id="t84" style="position:absolute;white-space:nowrap;top:417.57px;font-size:13.5px;line-height:13.5px;font-weight:400;color:#525a73;letter-spacing:-0.800px;left:1.00px">-same-</div></div>
<div style="position:absolute;left:390px;top:0;width:25px;height:697px;overflow:hidden"><div id="t85" style="position:absolute;white-space:nowrap;top:417.57px;font-size:13.5px;line-height:13.5px;font-weight:400;color:#525a73;letter-spacing:-0.800px;left:1.00px">-same-</div></div>
<div style="position:absolute;left:88px;top:444px;width:327px;height:39px;background:#fff"></div>
<div style="position:absolute;left:88px;top:483px;width:327px;height:1px;background:#e2e2e2"></div>
<div style="position:absolute;left:88px;top:443px;width:327px;height:1px;background:#e2e2e2"></div>
<div style="position:absolute;left:88px;top:443px;width:1px;height:40px;background:#e2e2e2"></div>
<div style="position:absolute;left:416px;top:483px;width:890px;height:1px;background:#e9e9e9"></div>
<div style="position:absolute;left:116px;top:0;width:99px;height:697px;overflow:hidden"><div id="t86" style="position:absolute;white-space:nowrap;top:457.57px;font-size:13.5px;line-height:13.5px;font-weight:400;color:#ad0a04;letter-spacing:0.050px;left:0.50px">Verify properties of system</div></div>
<svg style="position:absolute;left:95px;top:457px" width="11" height="11" viewBox="0 0 11 11"><rect x="0.5" y="1.5" width="9.5" height="9" rx="0.8" fill="none" stroke="#525a73" stroke-width="1"/><rect x="3.2" y="0.3" width="4" height="2.2" fill="#525a73"/></svg>
<div style="position:absolute;left:215px;top:443px;width:1px;height:40px;background:#e2e2e2"></div>
<div style="position:absolute;left:315px;top:443px;width:1px;height:40px;background:#e2e2e2"></div>
<div style="position:absolute;left:385px;top:443px;width:1px;height:40px;background:#e2e2e2"></div>
<div style="position:absolute;left:220px;top:0;width:95px;height:697px;overflow:hidden"><div id="t87" style="position:absolute;white-space:nowrap;top:457.57px;font-size:13.5px;line-height:13.5px;font-weight:400;color:#525a73;letter-spacing:0.050px;left:1.00px">Constantine Consultant</div></div>
<div style="position:absolute;left:320px;top:0;width:65px;height:697px;overflow:hidden"><div id="t88" style="position:absolute;white-space:nowrap;top:457.57px;font-size:13.5px;line-height:13.5px;font-weight:400;color:#525a73;letter-spacing:-0.800px;left:1.00px">-same-</div></div>
<div style="position:absolute;left:390px;top:0;width:25px;height:697px;overflow:hidden"><div id="t89" style="position:absolute;white-space:nowrap;top:457.57px;font-size:13.5px;line-height:13.5px;font-weight:400;color:#525a73;letter-spacing:-0.800px;left:1.00px">-same-</div></div>
<div style="position:absolute;left:88px;top:484px;width:327px;height:39px;background:#fff"></div>
<div style="position:absolute;left:88px;top:523px;width:327px;height:1px;background:#e2e2e2"></div>
<div style="position:absolute;left:88px;top:483px;width:327px;height:1px;background:#e2e2e2"></div>
<div style="position:absolute;left:88px;top:483px;width:1px;height:40px;background:#e2e2e2"></div>
<div style="position:absolute;left:416px;top:523px;width:890px;height:1px;background:#e9e9e9"></div>
<div style="position:absolute;left:116px;top:0;width:99px;height:697px;overflow:hidden"><div id="t90" style="position:absolute;white-space:nowrap;top:497.57px;font-size:13.5px;line-height:13.5px;font-weight:400;color:#ad0a04;letter-spacing:0.050px;left:0.50px">Prepare environment</div></div>
<svg style="position:absolute;left:95px;top:497px" width="11" height="11" viewBox="0 0 11 11"><rect x="0.5" y="1.5" width="9.5" height="9" rx="0.8" fill="none" stroke="#525a73" stroke-width="1"/><rect x="3.2" y="0.3" width="4" height="2.2" fill="#525a73"/></svg>
<div style="position:absolute;left:215px;top:483px;width:1px;height:40px;background:#e2e2e2"></div>
<div style="position:absolute;left:315px;top:483px;width:1px;height:40px;background:#e2e2e2"></div>
<div style="position:absolute;left:385px;top:483px;width:1px;height:40px;background:#e2e2e2"></div>
<div style="position:absolute;left:220px;top:0;width:95px;height:697px;overflow:hidden"><div id="t91" style="position:absolute;white-space:nowrap;top:497.57px;font-size:13.5px;line-height:13.5px;font-weight:400;color:#525a73;letter-spacing:0.050px;left:1.00px">Christian IT Expert</div></div>
<div style="position:absolute;left:320px;top:0;width:65px;height:697px;overflow:hidden"><div id="t92" style="position:absolute;white-space:nowrap;top:497.57px;font-size:13.5px;line-height:13.5px;font-weight:400;color:#525a73;letter-spacing:-0.800px;left:1.00px">-same-</div></div>
<div style="position:absolute;left:390px;top:0;width:25px;height:697px;overflow:hidden"><div id="t93" style="position:absolute;white-space:nowrap;top:497.57px;font-size:13.5px;line-height:13.5px;font-weight:400;color:#525a73;letter-spacing:-0.800px;left:1.00px">-same-</div></div>
<div style="position:absolute;left:64px;top:524px;width:351px;height:39px;background:#fff"></div>
<div style="position:absolute;left:64px;top:563px;width:351px;height:1px;background:#e2e2e2"></div>
<div style="position:absolute;left:64px;top:523px;width:351px;height:1px;background:#e2e2e2"></div>
<div style="position:absolute;left:64px;top:523px;width:1px;height:40px;background:#e2e2e2"></div>
<div style="position:absolute;left:416px;top:563px;width:890px;height:1px;background:#e9e9e9"></div>
<div id="t94" style="position:absolute;white-space:nowrap;top:537.17px;font-size:13.5px;line-height:13.5px;font-weight:700;color:#ad0a04;letter-spacing:-0.500px;left:93.00px">Analysis</div>
<svg style="position:absolute;left:69px;top:537px" width="14" height="14" viewBox="0 0 14 14"><path d="M7 1 L13 7 L7 13 L1 7 Z" fill="#525a73"/></svg>
<div style="position:absolute;left:88px;top:564px;width:327px;height:39px;background:#fff"></div>
<div style="position:absolute;left:88px;top:603px;width:327px;height:1px;background:#e2e2e2"></div>
<div style="position:absolute;left:88px;top:563px;width:327px;height:1px;background:#e2e2e2"></div>
<div style="position:absolute;left:88px;top:563px;width:1px;height:40px;background:#e2e2e2"></div>
<div style="position:absolute;left:416px;top:603px;width:890px;height:1px;background:#e9e9e9"></div>
<div style="position:absolute;left:116px;top:0;width:99px;height:697px;overflow:hidden"><div id="t95" style="position:absolute;white-space:nowrap;top:577.57px;font-size:13.5px;line-height:13.5px;font-weight:400;color:#ad0a04;letter-spacing:0.050px;left:0.50px">Prepare and send questionnaire</div></div>
<svg style="position:absolute;left:95px;top:577px" width="11" height="11" viewBox="0 0 11 11"><rect x="0.5" y="1.5" width="9.5" height="9" rx="0.8" fill="none" stroke="#525a73" stroke-width="1"/><rect x="3.2" y="0.3" width="4" height="2.2" fill="#525a73"/></svg>
<div style="position:absolute;left:215px;top:563px;width:1px;height:40px;background:#e2e2e2"></div>
<div style="position:absolute;left:315px;top:563px;width:1px;height:40px;background:#e2e2e2"></div>
<div style="position:absolute;left:385px;top:563px;width:1px;height:40px;background:#e2e2e2"></div>
<div style="position:absolute;left:220px;top:0;width:95px;height:697px;overflow:hidden"><div id="t96" style="position:absolute;white-space:nowrap;top:577.57px;font-size:13.5px;line-height:13.5px;font-weight:400;color:#525a73;letter-spacing:0.050px;left:1.00px">Constantine Consultant</div></div>
<div style="position:absolute;left:320px;top:0;width:65px;height:697px;overflow:hidden"><div id="t97" style="position:absolute;white-space:nowrap;top:577.57px;font-size:13.5px;line-height:13.5px;font-weight:400;color:#525a73;letter-spacing:-0.800px;left:1.00px">-same-</div></div>
<div style="position:absolute;left:390px;top:0;width:25px;height:697px;overflow:hidden"><div id="t98" style="position:absolute;white-space:nowrap;top:577.57px;font-size:13.5px;line-height:13.5px;font-weight:400;color:#525a73;letter-spacing:-0.800px;left:1.00px">-same-</div></div>
<div style="position:absolute;left:88px;top:604px;width:327px;height:39px;background:#fff"></div>
<div style="position:absolute;left:88px;top:643px;width:327px;height:1px;background:#e2e2e2"></div>
<div style="position:absolute;left:88px;top:603px;width:327px;height:1px;background:#e2e2e2"></div>
<div style="position:absolute;left:88px;top:603px;width:1px;height:40px;background:#e2e2e2"></div>
<div style="position:absolute;left:416px;top:643px;width:890px;height:1px;background:#e9e9e9"></div>
<div style="position:absolute;left:116px;top:0;width:99px;height:697px;overflow:hidden"><div id="t99" style="position:absolute;white-space:nowrap;top:617.57px;font-size:13.5px;line-height:13.5px;font-weight:400;color:#ad0a04;letter-spacing:0.050px;left:0.50px">Review and consult</div></div>
<svg style="position:absolute;left:95px;top:617px" width="11" height="11" viewBox="0 0 11 11"><rect x="0.5" y="1.5" width="9.5" height="9" rx="0.8" fill="none" stroke="#525a73" stroke-width="1"/><rect x="3.2" y="0.3" width="4" height="2.2" fill="#525a73"/></svg>
<div style="position:absolute;left:215px;top:603px;width:1px;height:40px;background:#e2e2e2"></div>
<div style="position:absolute;left:315px;top:603px;width:1px;height:40px;background:#e2e2e2"></div>
<div style="position:absolute;left:385px;top:603px;width:1px;height:40px;background:#e2e2e2"></div>
<div style="position:absolute;left:220px;top:0;width:95px;height:697px;overflow:hidden"><div id="t100" style="position:absolute;white-space:nowrap;top:617.57px;font-size:13.5px;line-height:13.5px;font-weight:400;color:#525a73;letter-spacing:0.050px;left:1.00px">Constantine Consultant</div></div>
<div style="position:absolute;left:320px;top:0;width:65px;height:697px;overflow:hidden"><div id="t101" style="position:absolute;white-space:nowrap;top:617.57px;font-size:13.5px;line-height:13.5px;font-weight:400;color:#525a73;letter-spacing:-0.800px;left:1.00px">-same-</div></div>
<div style="position:absolute;left:390px;top:0;width:25px;height:697px;overflow:hidden"><div id="t102" style="position:absolute;white-space:nowrap;top:617.57px;font-size:13.5px;line-height:13.5px;font-weight:400;color:#525a73;letter-spacing:-0.800px;left:1.00px">-same-</div></div>
<div style="position:absolute;left:88px;top:644px;width:327px;height:39px;background:#fff"></div>
<div style="position:absolute;left:88px;top:683px;width:327px;height:1px;background:#e2e2e2"></div>
<div style="position:absolute;left:88px;top:643px;width:327px;height:1px;background:#e2e2e2"></div>
<div style="position:absolute;left:88px;top:643px;width:1px;height:40px;background:#e2e2e2"></div>
<div style="position:absolute;left:416px;top:683px;width:890px;height:1px;background:#e9e9e9"></div>
<div style="position:absolute;left:116px;top:0;width:99px;height:697px;overflow:hidden"><div id="t103" style="position:absolute;white-space:nowrap;top:657.57px;font-size:13.5px;line-height:13.5px;font-weight:400;color:#ad0a04;letter-spacing:0.050px;left:0.50px">Finalize protocol</div></div>
<svg style="position:absolute;left:95px;top:657px" width="11" height="11" viewBox="0 0 11 11"><rect x="0.5" y="1.5" width="9.5" height="9" rx="0.8" fill="none" stroke="#525a73" stroke-width="1"/><rect x="3.2" y="0.3" width="4" height="2.2" fill="#525a73"/></svg>
<div style="position:absolute;left:215px;top:643px;width:1px;height:40px;background:#e2e2e2"></div>
<div style="position:absolute;left:315px;top:643px;width:1px;height:40px;background:#e2e2e2"></div>
<div style="position:absolute;left:385px;top:643px;width:1px;height:40px;background:#e2e2e2"></div>
<div style="position:absolute;left:220px;top:0;width:95px;height:697px;overflow:hidden"><div id="t104" style="position:absolute;white-space:nowrap;top:657.57px;font-size:13.5px;line-height:13.5px;font-weight:400;color:#525a73;letter-spacing:0.050px;left:1.00px">Constantine Consultant</div></div>
<div style="position:absolute;left:320px;top:0;width:65px;height:697px;overflow:hidden"><div id="t105" style="position:absolute;white-space:nowrap;top:657.57px;font-size:13.5px;line-height:13.5px;font-weight:400;color:#525a73;letter-spacing:-0.800px;left:1.00px">-same-</div></div>
<div style="position:absolute;left:390px;top:0;width:25px;height:697px;overflow:hidden"><div id="t106" style="position:absolute;white-space:nowrap;top:657.57px;font-size:13.5px;line-height:13.5px;font-weight:400;color:#525a73;letter-spacing:-0.800px;left:1.00px">-same-</div></div>
<div style="position:absolute;left:64px;top:684px;width:351px;height:39px;background:#fff"></div>
<div style="position:absolute;left:64px;top:723px;width:351px;height:1px;background:#e2e2e2"></div>
<div style="position:absolute;left:64px;top:683px;width:351px;height:1px;background:#e2e2e2"></div>
<div style="position:absolute;left:64px;top:683px;width:1px;height:40px;background:#e2e2e2"></div>
<div style="position:absolute;left:416px;top:723px;width:890px;height:1px;background:#e9e9e9"></div>
<div id="t107" style="position:absolute;white-space:nowrap;top:697.17px;font-size:13.5px;line-height:13.5px;font-weight:700;color:#ad0a04;letter-spacing:-0.500px;left:93.00px">Design</div>
<svg style="position:absolute;left:69px;top:697px" width="14" height="14" viewBox="0 0 14 14"><path d="M7 1 L13 7 L7 13 L1 7 Z" fill="#525a73"/></svg>
<div style="position:absolute;left:28px;top:348px;width:1px;height:36px;background:#cfcfcf"></div>
<div style="position:absolute;left:28px;top:383px;width:20px;height:1px;background:#cfcfcf"></div>
<div style="position:absolute;left:28px;top:404px;width:1px;height:293px;background:#cfcfcf"></div>
<div style="position:absolute;left:52px;top:388px;width:1px;height:136px;background:#cfcfcf"></div>
<div style="position:absolute;left:52px;top:423px;width:36px;height:1px;background:#cfcfcf"></div>
<div style="position:absolute;left:52px;top:463px;width:36px;height:1px;background:#cfcfcf"></div>
<div style="position:absolute;left:52px;top:503px;width:36px;height:1px;background:#cfcfcf"></div>
<div style="position:absolute;left:28px;top:543px;width:20px;height:1px;background:#cfcfcf"></div>
<div style="position:absolute;left:52px;top:548px;width:1px;height:116px;background:#cfcfcf"></div>
<div style="position:absolute;left:52px;top:583px;width:36px;height:1px;background:#cfcfcf"></div>
<div style="position:absolute;left:52px;top:623px;width:36px;height:1px;background:#cfcfcf"></div>
<div style="position:absolute;left:52px;top:663px;width:36px;height:1px;background:#cfcfcf"></div>
<div style="position:absolute;left:23.5px;top:338px;width:10px;height:10px;background:#525a73;border-radius:1px"></div>
<div style="position:absolute;left:25.5px;top:342.5px;width:6px;height:1.3px;background:#d0d3dc"></div>
<div style="position:absolute;left:47.5px;top:378px;width:10px;height:10px;background:#525a73;border-radius:1px"></div>
<div style="position:absolute;left:49.5px;top:382.5px;width:6px;height:1.3px;background:#d0d3dc"></div>
<div style="position:absolute;left:47.5px;top:538px;width:10px;height:10px;background:#525a73;border-radius:1px"></div>
<div style="position:absolute;left:49.5px;top:542.5px;width:6px;height:1.3px;background:#d0d3dc"></div>
<div style="position:absolute;left:476px;top:327px;width:719px;height:16px;border-radius:8px;background:#a7abb8"></div>
<div style="position:absolute;left:480px;top:331px;width:2px;height:7.5px;background:#525a73"></div>
<svg style="position:absolute;left:571px;top:368px" width="14" height="14" viewBox="0 0 14 14"><path d="M7 0.8 L13.2 7 L7 13.2 L0.8 7 Z" fill="#525a73"/></svg>
<svg style="position:absolute;left:625px;top:528px" width="14" height="14" viewBox="0 0 14 14"><path d="M7 0.8 L13.2 7 L7 13.2 L0.8 7 Z" fill="#525a73"/></svg>
<svg style="position:absolute;left:865px;top:688px" width="14" height="14" viewBox="0 0 14 14"><path d="M7 0.8 L13.2 7 L7 13.2 L0.8 7 Z" fill="#525a73"/></svg>
<div style="position:absolute;left:476px;top:407px;width:36px;height:16px;border-radius:8px;background:#d6877c"></div>
<div style="position:absolute;left:476px;top:426px;width:34px;height:3px;border-radius:2px;background:#fde0ad;border:1px solid #f8b957"></div>
<div style="position:absolute;left:500px;top:447px;width:78px;height:16px;border-radius:8px;background:#d6877c"></div>
<div style="position:absolute;left:500px;top:466px;width:76px;height:3px;border-radius:2px;background:#fde0ad;border:1px solid #f8b957"></div>
<div style="position:absolute;left:542px;top:487px;width:6px;height:16px;border-radius:3.0px;background:#d6877c"></div>
<div style="position:absolute;left:542px;top:506px;width:4px;height:3px;border-radius:2px;background:#fde0ad;border:1px solid #f8b957"></div>
<div style="position:absolute;left:530px;top:567px;width:60px;height:16px;border-radius:8px;background:#d6877c"></div>
<div style="position:absolute;left:530px;top:586px;width:58px;height:3px;border-radius:2px;background:#fde0ad;border:1px solid #f8b957"></div>
<div style="position:absolute;left:590px;top:607px;width:24px;height:16px;border-radius:8px;background:#d6877c"></div>
<div style="position:absolute;left:590px;top:626px;width:22px;height:3px;border-radius:2px;background:#fde0ad;border:1px solid #f8b957"></div>
<div style="position:absolute;left:614px;top:647px;width:12px;height:16px;border-radius:6.0px;background:#d6877c"></div>
<div style="position:absolute;left:614px;top:666px;width:10px;height:3px;border-radius:2px;background:#fde0ad;border:1px solid #f8b957"></div>
<div style="position:absolute;left:984px;top:323px;width:2px;height:374px;background:rgba(255,5,5,0.45)"></div>
<svg style="position:absolute;left:0;top:0" width="1387" height="697" viewBox="0 0 1387 697">
<g fill="none" stroke="#7a0d0d" stroke-width="2">
<path d="M590 574.5 L603.5 574.5 L603.5 595 L578 595 L578 615.5 L584 615.5"/>
<path d="M614 614.8 L624 614.8 L624 635 L606 635 L606 655.5 L609 655.5"/>
<path d="M626 654.8 L640 654.8 L640 675 L614 675 L614 697"/>
</g>
<path d="M583 610.5 L590 615.5 L583 620.5 Z" fill="#7a0d0d"/>
<path d="M607 650.5 L614 655.5 L607 660.5 Z" fill="#7a0d0d"/>
</svg>
<div style="position:absolute;left:9px;top:20px;width:1301.5px;height:36.5px;background:#bff0ea;border:1px solid #00c19b;border-radius:2px"></div>
<svg style="position:absolute;left:25px;top:31px" width="18" height="18" viewBox="0 0 18 18"><circle cx="8.9" cy="9" r="7" fill="none" stroke="#4f5669" stroke-width="1.8"/><rect x="8" y="4.6" width="1.8" height="5.6" fill="#4f5669"/><rect x="8" y="11.6" width="1.8" height="1.8" fill="#4f5669"/></svg>
<div id="t108" style="position:absolute;white-space:nowrap;top:32.85px;font-size:14px;line-height:14px;font-weight:400;color:#4f5669;letter-spacing:0.060px;left:62.90px">Creating baseline in the background. The process may take a some minutes depending on the volume of data in your project. Please check back later.</div>
<svg style="position:absolute;left:1296px;top:27px" width="11" height="11" viewBox="0 0 11 11"><path d="M1 1 L10 10 M10 1 L1 10" stroke="#7e9996" stroke-width="1.3"/></svg>
</body></html>
